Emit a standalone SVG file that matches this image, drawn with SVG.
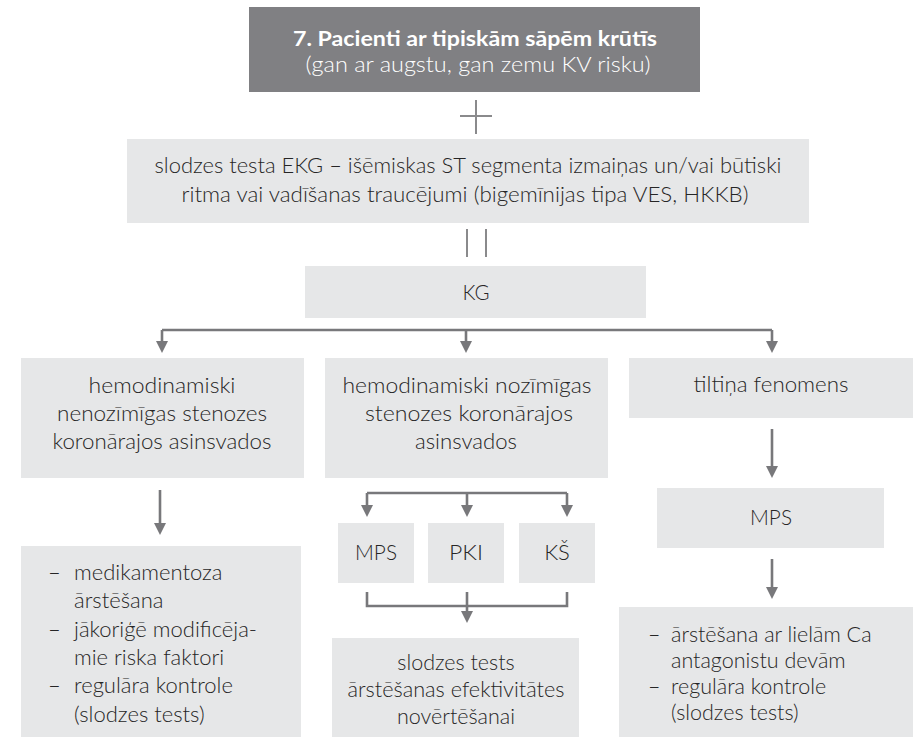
<svg xmlns="http://www.w3.org/2000/svg" width="919" height="739" viewBox="0 0 919 739">
  <style>
    .box { fill: #e6e7e8; }
    .head { fill: #808083; }
    .t { font-family: Lato, "Open Sans", sans-serif; font-size: 22px; font-weight: 300; fill: #262626; }
    .r { font-family: Lato, "Open Sans", sans-serif; font-size: 21.5px; font-weight: 300; fill: #262626; }
    .c { text-anchor: middle; }
    .ht { font-family: Lato, "Open Sans", sans-serif; fill: #ffffff; text-anchor: middle; }
    .conn { fill: none; stroke: #78787b; stroke-width: 2.6; }
    .sym { fill: none; stroke: #8a8a8c; stroke-width: 2; }
  </style>
  <defs>
    <marker id="arrow" viewBox="0 0 12 12" refX="6" refY="6" markerWidth="12" markerHeight="12" markerUnits="userSpaceOnUse" orient="auto">
      <path d="M0,0 L12,6 L0,12 z" fill="#78787b"/>
    </marker>
  </defs>

  <!-- title -->
  <g id="title">
    <rect class="head" x="249" y="7" width="451" height="85"/>
    <text class="ht" x="475" y="46" font-size="21" font-weight="bold" textLength="364" lengthAdjust="spacingAndGlyphs">7. Pacienti ar tipiskām sāpēm krūtīs</text>
    <text class="ht" x="478" y="72" font-size="21" font-weight="300" textLength="345" lengthAdjust="spacingAndGlyphs">(gan ar augstu, gan zemu KV risku)</text>
  </g>

  <!-- plus sign -->
  <g id="plus">
    <path class="sym" d="M476,100 V134 M460,116 H492"/>
  </g>

  <!-- stress test ECG -->
  <g id="ekg">
    <rect class="box" x="127" y="139" width="682" height="84"/>
    <text class="t c" x="468" y="173" textLength="627" lengthAdjust="spacingAndGlyphs">slodzes testa EKG – išēmiskas ST segmenta izmaiņas un/vai būtiski</text>
    <text class="t c" x="465" y="202" textLength="567" lengthAdjust="spacingAndGlyphs">ritma vai vadīšanas traucējumi (bigemīnijas tipa VES, HKKB)</text>
  </g>

  <!-- double bar -->
  <g id="bars">
    <path class="sym" d="M467,229 V257 M486,229 V257"/>
  </g>

  <!-- coronary angiography -->
  <g id="kg">
    <rect class="box" x="305" y="266" width="341" height="52"/>
    <text class="t c" x="476" y="300" textLength="27" lengthAdjust="spacingAndGlyphs">KG</text>
  </g>

  <g id="insignificant">
    <rect class="box" x="21" y="358" width="283" height="120"/>
    <text class="t c" x="162" y="393" textLength="147" lengthAdjust="spacingAndGlyphs">hemodinamiski</text>
    <text class="t c" x="162" y="421" textLength="210" lengthAdjust="spacingAndGlyphs">nenozīmīgas stenozes</text>
    <text class="t c" x="162" y="449" textLength="219" lengthAdjust="spacingAndGlyphs">koronārajos asinsvados</text>
  </g>

  <g id="significant">
    <rect class="box" x="325" y="358" width="283" height="120"/>
    <text class="t c" x="467" y="393" textLength="249" lengthAdjust="spacingAndGlyphs">hemodinamiski nozīmīgas</text>
    <text class="t c" x="469" y="421" textLength="208" lengthAdjust="spacingAndGlyphs">stenozes koronārajos</text>
    <text class="t c" x="466" y="449" textLength="102" lengthAdjust="spacingAndGlyphs">asinsvados</text>
  </g>

  <g id="bridging">
    <rect class="box" x="629" y="358" width="284" height="60"/>
    <text class="t c" x="771" y="392" textLength="155" lengthAdjust="spacingAndGlyphs">tiltiņa fenomens</text>
  </g>

  <g id="mps-mid">
    <rect class="box" x="338" y="523" width="76" height="60"/>
    <text class="t c" x="376" y="560" textLength="42" lengthAdjust="spacingAndGlyphs">MPS</text>
  </g>
  <g id="pki">
    <rect class="box" x="428" y="523" width="76" height="60"/>
    <text class="t c" x="466" y="560" textLength="34" lengthAdjust="spacingAndGlyphs">PKI</text>
  </g>
  <g id="ks">
    <rect class="box" x="519" y="523" width="76" height="60"/>
    <text class="t c" x="557" y="560">KŠ</text>
  </g>

  <g id="mps-right">
    <rect class="box" x="657" y="488" width="227" height="60"/>
    <text class="t c" x="771" y="525" textLength="42" lengthAdjust="spacingAndGlyphs">MPS</text>
  </g>

  <g id="treatment-left">
    <rect class="box" x="21" y="546" width="280" height="191"/>
    <text class="t" x="48" y="580">–</text>
    <text class="t" x="74" y="580">medikamentoza</text>
    <text class="t" x="74" y="608">ārstēšana</text>
    <text class="t" x="48" y="637">–</text>
    <text class="t" x="74" y="637">jākoriģē modificēja-</text>
    <text class="t" x="74" y="665">mie riska faktori</text>
    <text class="t" x="48" y="693">–</text>
    <text class="t" x="74" y="693">regulāra kontrole</text>
    <text class="t" x="74" y="722">(slodzes tests)</text>
  </g>

  <g id="followup-mid">
    <rect class="box" x="332" y="638" width="247" height="99"/>
    <text class="r c" x="456" y="670">slodzes tests</text>
    <text class="r c" x="456" y="697" textLength="217" lengthAdjust="spacingAndGlyphs">ārstēšanas efektivitātes</text>
    <text class="r c" x="456" y="724">novērtēšanai</text>
  </g>

  <g id="treatment-right">
    <rect class="box" x="619" y="607" width="294" height="130"/>
    <text class="r" x="648" y="642">–</text>
    <text class="r" x="671" y="642">ārstēšana ar lielām Ca</text>
    <text class="r" x="671" y="668">antagonistu devām</text>
    <text class="r" x="648" y="694">–</text>
    <text class="r" x="671" y="694">regulāra kontrole</text>
    <text class="r" x="671" y="720">(slodzes tests)</text>
  </g>

  <!-- connectors -->
  <g id="connectors">
    <path class="conn" d="M162,330 H772"/>
    <path class="conn" d="M162,330 V347" marker-end="url(#arrow)"/>
    <path class="conn" d="M466,330 V347" marker-end="url(#arrow)"/>
    <path class="conn" d="M772,330 V347" marker-end="url(#arrow)"/>

    <path class="conn" d="M160,490 V529" marker-end="url(#arrow)"/>

    <path class="conn" d="M367,493 H567"/>
    <path class="conn" d="M367,493 V511" marker-end="url(#arrow)"/>
    <path class="conn" d="M467,493 V511" marker-end="url(#arrow)"/>
    <path class="conn" d="M567,493 V511" marker-end="url(#arrow)"/>

    <path class="conn" d="M367,592 V606 H567 V592"/>
    <path class="conn" d="M467,592 V617" marker-end="url(#arrow)"/>

    <path class="conn" d="M772,429 V472" marker-end="url(#arrow)"/>
    <path class="conn" d="M772,559 V593" marker-end="url(#arrow)"/>
  </g>
</svg>
